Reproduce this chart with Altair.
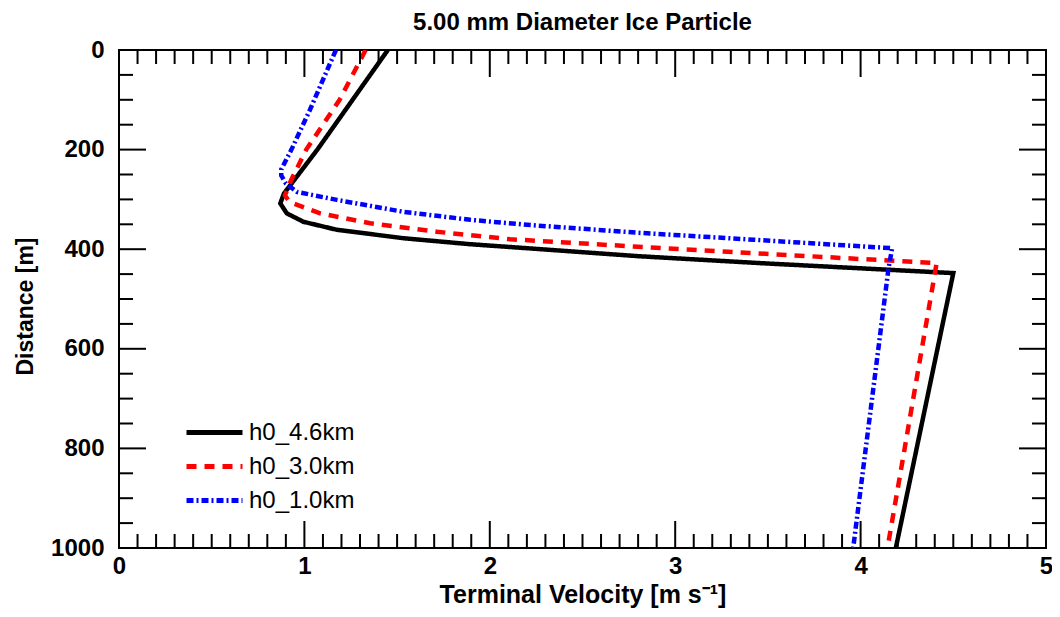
import altair as alt
import pandas as pd

# ---- data ----
series_names = ["h0_4.6km", "h0_3.0km", "h0_1.0km"]
series_colors = ["#000000", "#ff0000", "#0000ff"]
series_dashes = [[1, 0], [10, 8], [7, 3, 2, 3]]

v_46 = [1.45, 1.26, 1.07, 0.89, 0.87, 0.905, 0.995, 1.175, 1.535, 1.895, 2.20, 2.80, 3.46, 4.50, 4.19]
d_46 = [0, 100, 200, 288, 308, 328, 345, 361, 378, 390, 398, 414, 428, 448, 1000]

v_30 = [1.33, 1.19, 1.01, 0.93, 0.895, 0.92, 1.085, 1.355, 1.715, 2.11, 2.80, 3.425, 4.41, 4.145]
d_30 = [0, 100, 200, 260, 292, 305, 328, 348, 365, 380, 395, 408, 428, 1000]

v_10 = [1.17, 1.03, 0.93, 0.875, 0.875, 0.90, 0.96, 1.175, 1.535, 1.895, 2.20, 2.80, 3.425, 4.17, 4.15, 3.96]
d_10 = [0, 120, 200, 240, 252, 268, 285, 301, 325, 341, 351, 367, 381, 398, 440, 1000]

x_major = [0, 1, 2, 3, 4, 5]
y_major = [0, 200, 400, 600, 800, 1000]
x_minor = [i / 10 for i in range(0, 51) if i % 10 != 0]
y_minor = [i for i in range(0, 1001, 50) if i % 200 != 0]

rows = []
for name, vs, ds in zip(series_names, [v_46, v_30, v_10], [d_46, d_30, d_10]):
    for i, (v, d) in enumerate(zip(vs, ds)):
        rows.append({"series": name, "v": v, "d": d, "idx": i})
df = pd.DataFrame(rows)

W, H = 927, 498
MAJ, MIN = 27, 14

xs = alt.Scale(domain=[0, 5], nice=False, zero=False)
ys = alt.Scale(domain=[0, 1000], nice=False, zero=False, reverse=True)

lines = alt.Chart(df).mark_line(strokeWidth=4.5, clip=True).encode(
    x=alt.X("v:Q", scale=xs,
            axis=alt.Axis(values=x_major, format="d", ticks=False, domain=False, grid=False,
                          labelFlush=False, labelOverlap=False, labelPadding=6,
                          title="Terminal Velocity [m s\u207b\u00b9]", titleFontSize=25,
                          titleY=54, titleBaseline="alphabetic")),
    y=alt.Y("d:Q", scale=ys,
            axis=alt.Axis(values=y_major, format="d", ticks=False, domain=False, grid=False,
                          labelFlush=False, labelOverlap=False, labelPadding=15,
                          title="Distance [m]", titleX=-94, titleY=256,
                          titleAngle=270, titleBaseline="middle", titleAlign="center")),
    color=alt.Color("series:N", scale=alt.Scale(domain=series_names, range=series_colors),
                    legend=alt.Legend(title=None, orient="none", legendX=65, legendY=366)),
    strokeDash=alt.StrokeDash("series:N", scale=alt.Scale(domain=series_names, range=series_dashes),
                              legend=alt.Legend(title=None, orient="none", legendX=65, legendY=366)),
    order=alt.Order("idx:Q"),
)

def xticks(vals, length):
    d = pd.DataFrame({"v": vals})
    bottom = alt.Chart(d).mark_rule(color="black", strokeWidth=2).encode(
        x=alt.X("v:Q", scale=xs), y=alt.value(H), y2=alt.value(H - length))
    top = alt.Chart(d).mark_rule(color="black", strokeWidth=2).encode(
        x=alt.X("v:Q", scale=xs), y=alt.value(0), y2=alt.value(length))
    return [bottom, top]

def yticks(vals, length):
    d = pd.DataFrame({"d": vals})
    left = alt.Chart(d).mark_rule(color="black", strokeWidth=2).encode(
        y=alt.Y("d:Q", scale=ys), x=alt.value(0), x2=alt.value(length))
    right = alt.Chart(d).mark_rule(color="black", strokeWidth=2).encode(
        y=alt.Y("d:Q", scale=ys), x=alt.value(W), x2=alt.value(W - length))
    return [left, right]

layers = [lines] + xticks(x_major, MAJ) + xticks(x_minor, MIN) + yticks(y_major, MAJ) + yticks(y_minor, MIN)

chart = alt.layer(*layers).properties(
    width=W, height=H,
    title=alt.TitleParams("5.00 mm Diameter Ice Particle", font="Liberation Sans",
                          fontSize=24, fontWeight="bold", anchor="middle", offset=16, dy=13,
                          color="black"),
    autosize=alt.AutoSizeParams(type="none"),
    padding={"left": 111, "top": 42, "right": 6, "bottom": 60},
).configure_view(
    stroke="black", strokeWidth=2
).configure_axis(
    labelFont="Liberation Sans", labelFontSize=24, labelFontWeight="bold", labelColor="black",
    titleFont="Liberation Sans", titleFontSize=23, titleFontWeight="bold", titleColor="black",
).configure_legend(
    symbolType="M-1,0L3,0", symbolSize=784, symbolStrokeWidth=5,
    labelFont="Liberation Sans", labelFontSize=24, labelColor="black",
    labelOffset=32, rowPadding=5, padding=0,
)

chart.save("out.html", embed_options={"renderer": "svg", "actions": False})
